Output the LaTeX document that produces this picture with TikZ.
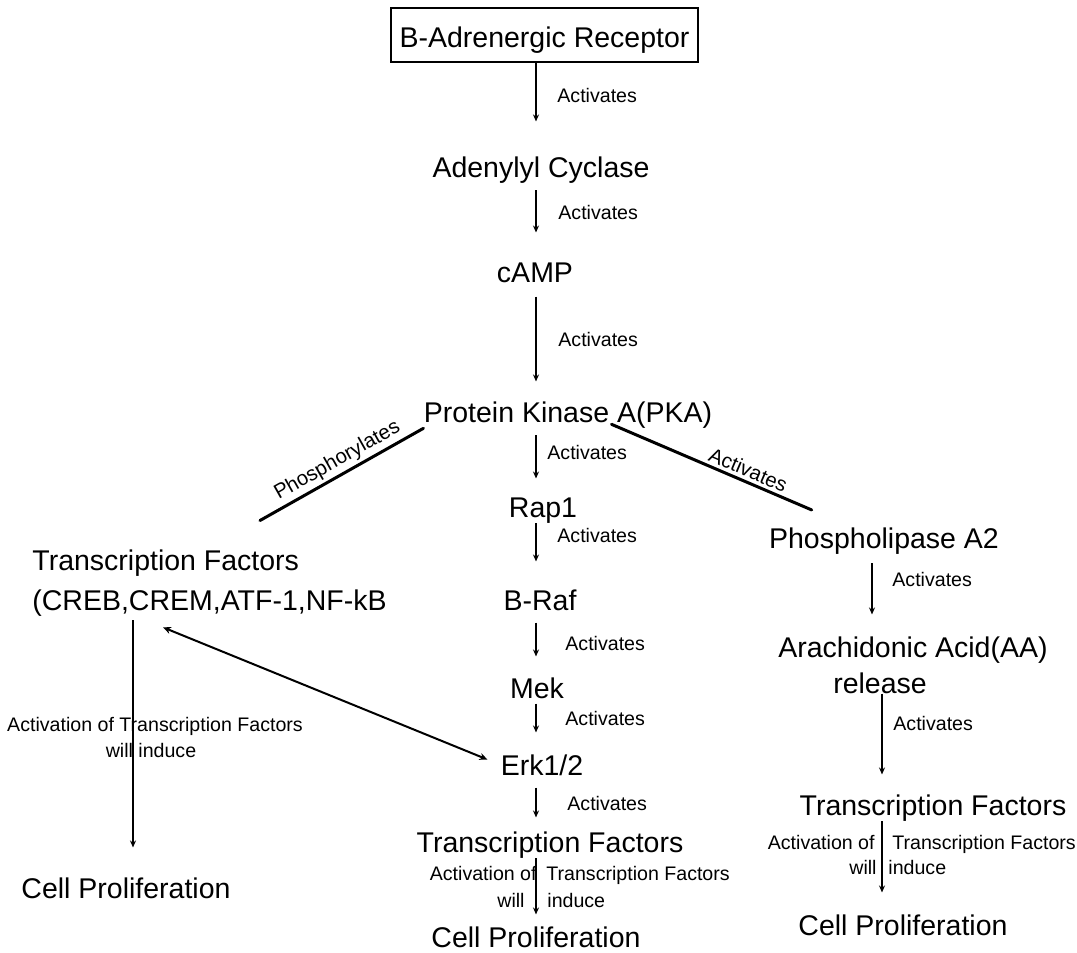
\documentclass[tikz,border=0pt]{standalone}
\usepackage{fontspec}
\setmainfont{Liberation Sans}
\usetikzlibrary{arrows.meta,calc}
\begin{document}
\begin{tikzpicture}[x=0.5pt,y=-0.5pt,
  main/.style={font=\fontsize{14.25}{20}\selectfont, inner sep=0pt, anchor=base},
  lbl/.style={font=\fontsize{9.8}{13}\selectfont, inner sep=0pt, anchor=base west},
  small/.style={font=\fontsize{9.8}{13}\selectfont, inner sep=0pt, anchor=base},
  smallr/.style={font=\fontsize{9.8}{13}\selectfont, inner sep=0pt, anchor=base east},
  arr/.style={line width=0.8pt, -{Stealth[length=3.5pt,width=3pt]}},
  diag/.style={line width=1.5pt, line cap=round},
  dlbl/.style={font=\fontsize{10.2}{13}\selectfont, inner sep=1.5pt, sloped, above}
]
\useasboundingbox (0,0) rectangle (1077,953);

% nodes
\node[main, draw, line width=0.75pt, minimum width=153.5pt, minimum height=27pt,
      text height=15pt, text depth=3pt, anchor=center] (bar) at (544.5,35) {B-Adrenergic Receptor};
\node[main] (ac) at (541,177) {Adenylyl Cyclase};
\node[main] (camp) at (535,282) {cAMP};
\node[main] (pka) at (568,422) {Protein Kinase A(PKA)};
\node[main] (rap) at (543,517) {Rap1};
\node[main] (braf) at (540,610) {B-Raf};
\node[main] (mek) at (537,698) {Mek};
\node[main] (erk) at (542,775) {Erk1/2};
\node[main] (tfc) at (550,852) {Transcription Factors};
\node[main] (cpc) at (536,947) {Cell Proliferation};
\node[main, anchor=north west, align=left] (tfl) at (32,549) {Transcription Factors\\(CREB,CREM,ATF-1,NF-kB};
\node[main] (cpl) at (126,898) {Cell Proliferation};
\node[main] (ph) at (884,548) {Phospholipase A2};
\node[main] (aa) at (913,657) {Arachidonic Acid(AA)};
\node[main] (rel) at (880,693) {release};
\node[main] (tfr) at (933,815) {Transcription Factors};
\node[main] (cpr) at (903,935) {Cell Proliferation};

\coordinate (axc) at (536,0);
\coordinate (axl) at (133,0);
\coordinate (axp) at (872,0);
\coordinate (axr) at (882,0);

% central column
\draw[arr, shorten >=17.25pt] (bar.south -| axc) -- (ac.north -| axc);
\draw[arr, shorten <=3.5pt, shorten >=14.75pt] (ac.south -| axc) -- (camp.north -| axc);
\draw[arr, shorten <=7pt, shorten >=9.75pt] (camp.south -| axc) -- (pka.north -| axc);
\draw[arr, shorten <=3.5pt, shorten >=9.25pt] (pka.south -| axc) -- (rap.north -| axc);
\draw[arr, shorten >=13.75pt] (rap.south -| axc) -- (braf.north -| axc);
\draw[arr, shorten <=6pt, shorten >=10.25pt] (braf.south -| axc) -- (mek.north -| axc);
\draw[arr, shorten <=2.5pt, shorten >=10.75pt] (mek.south -| axc) -- (erk.north -| axc);
\draw[arr, shorten <=6pt, shorten >=6.75pt] (erk.south -| axc) -- (tfc.north -| axc);
\draw[arr, shorten >=5.75pt] (tfc.south -| axc) -- (cpc.north -| axc);

% left column
\draw[arr, shorten <=2pt, shorten >=14.75pt] (tfl.south -| axl) -- (cpl.north -| axl);

% right column
\draw[arr, shorten <=4.5pt, shorten >=10.75pt] (ph.south -| axp) -- (aa.north -| axp);
\draw[arr, line width=1.3pt, shorten >=9.75pt] (rel.south -| axr) -- (tfr.north -| axr);
\draw[arr, shorten >=10.75pt] (tfr.south -| axr) -- (cpr.north -| axr);

% diagonals
\draw[diag, shorten <=29pt] (tfl.north) -- node[dlbl, pos=0.63] (phos) {Phosphorylates} (pka.south west);
\draw[diag] ($(pka.south)+(43.5,-4)$) -- node[dlbl, pos=0.66] (actd) {Activates} ($(ph.north west)+(43,-17)$);

% Erk <-> TF
\draw[line width=1pt, {Stealth[length=4pt,width=3.5pt]}-{Stealth[length=4pt,width=3.5pt]}, shorten >=7pt]
  ($(tfl.south west)+(131,11)$) -- (erk.west);

% labels
\node[lbl] (l1) at (557,102) {Activates};
\node[lbl] (l2) at (558,219) {Activates};
\node[lbl] (l3) at (558,346) {Activates};
\node[lbl] (l4) at (547,459) {Activates};
\node[lbl] (l5) at (557,542) {Activates};
\node[lbl] (l6) at (565,650) {Activates};
\node[lbl] (l7) at (565,725) {Activates};
\node[lbl] (l8) at (567,810) {Activates};
\node[lbl] (l9) at (892,586) {Activates};
\node[lbl] (l10) at (893,730) {Activates};

\node[smallr] (ic1) at (537,880) {Activation of};
\node[lbl] (ic2) at (546,880) {Transcription Factors};
\node[smallr] (ic3) at (525,907) {will};
\node[lbl] (ic4) at (547,907) {induce};

\node[small] (il1) at (155,731) {Activation of Transcription Factors};
\node[small] (il2) at (151,757) {will induce};

\node[smallr] (ir1) at (875,849) {Activation of};
\node[lbl] (ir2) at (892,849) {Transcription Factors};
\node[smallr] (ir3) at (877,874) {will};
\node[lbl] (ir4) at (888,874) {induce};
\end{tikzpicture}
\end{document}
